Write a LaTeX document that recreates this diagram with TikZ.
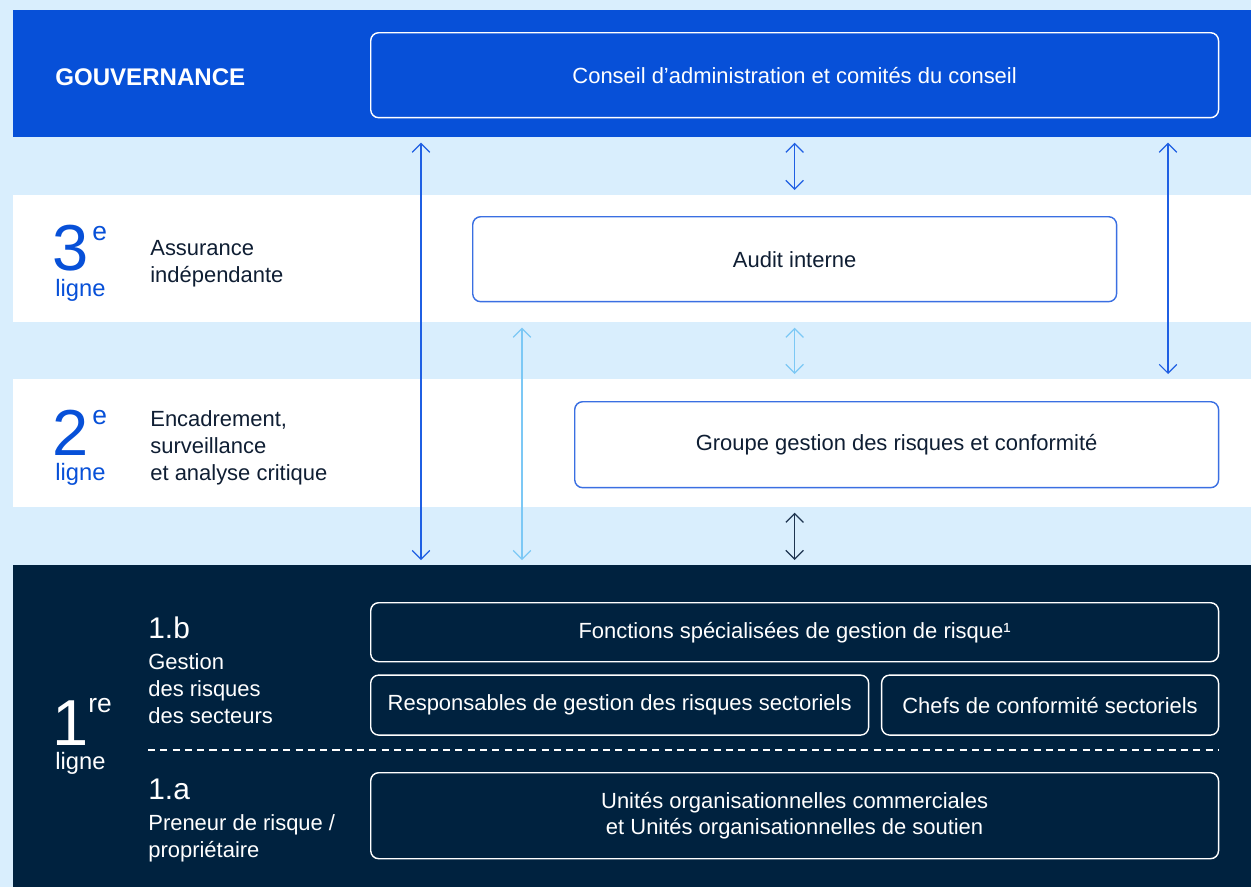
\documentclass[tikz,border=0pt]{standalone}
\usepackage{fontspec}
\setmainfont{Liberation Sans}
\usetikzlibrary{positioning}
\usetikzlibrary{arrows.meta}

\definecolor{paleblue}{HTML}{D9EEFD}
\definecolor{govblue}{HTML}{0750D8}
\definecolor{navy}{HTML}{00223F}
\definecolor{ink}{HTML}{0F1E33}
\definecolor{edgeblue}{HTML}{3A6FE2}
\definecolor{arrowblue}{HTML}{1F5FE3}
\definecolor{arrowlight}{HTML}{7CC8F5}
\definecolor{arrowdark}{HTML}{1E3450}

\tikzset{
  band/.style={anchor=north west, inner sep=0, minimum width=24.76cm},
  box/.style={rounded corners=0.16cm, line width=0.8pt, align=center, inner sep=0, font=\fontsize{12.5}{15}\selectfont},
  darkbox/.style={box, draw=white, text=white},
  lightbox/.style={box, draw=edgeblue, fill=white, text=ink},
  bignum/.style={anchor=base west, inner sep=0, font=\fontsize{37}{37}\selectfont},
  supnum/.style={anchor=base west, inner sep=0, font=\fontsize{15}{15}\selectfont},
  ligne/.style={anchor=base west, inner sep=0, font=\fontsize{13.5}{16}\selectfont},
  tag/.style={anchor=base west, inner sep=0, align=left, font=\fontsize{12.5}{15.2}\selectfont},
  subtag/.style={anchor=base west, inner sep=0, font=\fontsize{17}{20}\selectfont},
  link/.style={{Straight Barb[length=5pt,width=10pt]}-{Straight Barb[length=5pt,width=10pt]}, line width=0.7pt, shorten <=0.1cm, shorten >=0.1cm},
}

\begin{document}
\begin{tikzpicture}[x=0.02cm, y=-0.02cm]
% Background
\fill[paleblue] (0,0) rectangle (1251,887);
\useasboundingbox (0,0) rectangle (1251,887);

% Bands
\node[band, fill=govblue, minimum height=2.54cm] (gov) at (13,10) {};
\node[band, fill=white, minimum height=2.54cm] (l3) at (13,195) {};
\node[band, fill=white, minimum height=2.56cm] (l2) at (13,379) {};
\node[band, fill=navy, minimum height=6.44cm] (l1) at (13,565) {};

% Gouvernance
\node[anchor=west, inner sep=0, text=white, font=\fontsize{13.7}{16}\selectfont\bfseries] (govlabel) at (55,77) {GOUVERNANCE};
\node[darkbox, anchor=north west, minimum width=16.96cm, minimum height=1.7cm] (conseil) at (370,32) {Conseil d’administration et comités du conseil};

% 3e ligne
\node[bignum, text=govblue] (n3) at (52,270) {3};
\node[supnum, text=govblue] (s3) at (92,240) {e};
\node[ligne, text=govblue] (g3) at (55,296) {ligne};
\node[tag, text=ink] (t3) at (150,282) {Assurance\\indépendante};
\node[lightbox, anchor=north west, minimum width=12.88cm, minimum height=1.7cm] (audit) at (472,216) {Audit interne};

% 2e ligne
\node[bignum, text=govblue] (n2) at (52,455) {2};
\node[supnum, text=govblue] (s2) at (92,424) {e};
\node[ligne, text=govblue] (g2) at (55,480) {ligne};
\node[tag, text=ink] (t2) at (150,480) {Encadrement,\\surveillance\\et analyse critique};
\node[lightbox, anchor=north west, minimum width=12.88cm, minimum height=1.72cm] (groupe) at (574,401) {Groupe gestion des risques et conformité};

% 1re ligne
\node[bignum, text=white] (n1) at (52,745) {1};
\node[supnum, text=white] (s1) at (88,712) {re};
\node[ligne, text=white] (g1) at (55,769) {ligne};
\node[subtag, text=white] (b1) at (148,638) {1.b};
\node[tag, text=white] (tb) at (148,723) {Gestion\\des risques\\des secteurs};
\node[subtag, text=white] (a1) at (148,799) {1.a};
\node[tag, text=white] (ta) at (148,857) {Preneur de risque /\\propriétaire};

\node[darkbox, anchor=north west, minimum width=16.96cm, minimum height=1.18cm] (fonctions) at (370,602) {Fonctions spécialisées de gestion de risque¹};
\node[darkbox, below=0.24cm of fonctions.south west, anchor=north west, minimum width=9.96cm, minimum height=1.2cm] (resp) {Responsables de gestion des risques sectoriels};
\node[darkbox, below=0.24cm of fonctions.south east, anchor=north east, minimum width=6.74cm, minimum height=1.2cm] (chefs) {Chefs de conformité sectoriels};
\node[darkbox, anchor=north west, minimum width=16.96cm, minimum height=1.72cm] (unites) at (370,772) {Unités organisationnelles commerciales\\et Unités organisationnelles de soutien};

\coordinate (dash) at (148,750);
\draw[white, line width=0.6pt, dash pattern=on 4pt off 3pt] (dash) -- (dash -| unites.east);

% Edges
\coordinate (xl) at (421,0);
\coordinate (xm) at (522,0);
\coordinate (xr) at (1168,0);
\draw[link, arrowblue] (gov.south -| xl) -- (l1.north -| xl);
\draw[link, arrowblue] (gov.south -| audit) -- (l3.north -| audit);
\draw[link, arrowblue] (gov.south -| xr) -- (l2.north -| xr);
\draw[link, arrowlight] (l3.south -| xm) -- (l1.north -| xm);
\draw[link, arrowlight] (l3.south -| audit) -- (l2.north -| audit);
\draw[link, arrowdark] (l2.south -| audit) -- (l1.north -| audit);
\end{tikzpicture}
\end{document}
